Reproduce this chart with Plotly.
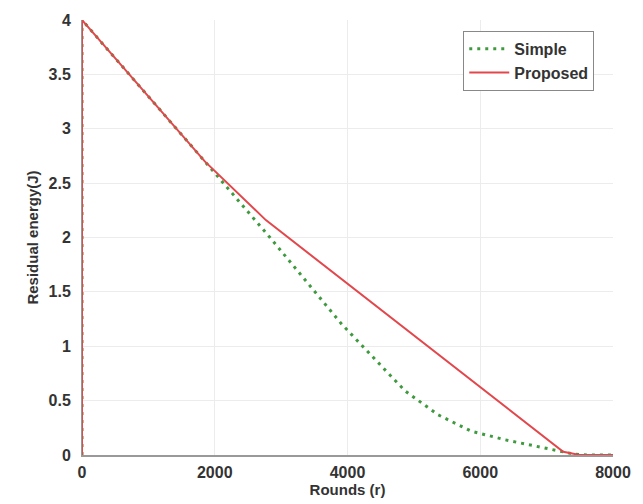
import plotly.graph_objects as go

rounds_simple = [0, 0, 1850, 2832, 3917, 4354, 4866, 5363, 5861, 6373, 6870, 7200, 7400, 7600, 8000]
energy_simple = [0, 4.0, 2.70, 2.00, 1.20, 0.92, 0.59, 0.37, 0.22, 0.14, 0.08, 0.04, 0.01, 0.0, 0.0]

rounds_proposed = [0, 0, 1850, 2770, 7250, 7500, 8000]
energy_proposed = [0, 4.0, 2.70, 2.16, 0.03, 0.0, 0.0]

x_ticks = [0, 2000, 4000, 6000, 8000]
y_ticks = [0, 0.5, 1, 1.5, 2, 2.5, 3, 3.5, 4]
y_labels = ["0", "0.5", "1", "1.5", "2", "2.5", "3", "3.5", "4"]

font_family = "Liberation Sans, Arial, sans-serif"

fig = go.Figure()
fig.add_trace(go.Scatter(x=rounds_simple, y=energy_simple, mode="lines", name="Simple",
                         line=dict(color="#3f9a3f", width=3, dash="3px,5px")))
fig.add_trace(go.Scatter(x=rounds_proposed, y=energy_proposed, mode="lines", name="Proposed",
                         line=dict(color="#e2474c", width=2)))

fig.update_layout(
    width=643, height=504,
    margin=dict(l=74, r=38, t=12, b=57, autoexpand=False),
    paper_bgcolor="white", plot_bgcolor="white",
    font=dict(family=font_family, size=16, color="#333333", weight="bold"),
    showlegend=True,
    legend=dict(x=0.718, y=0.975, xanchor="left", yanchor="top",
                bgcolor="white", bordercolor="#888888", borderwidth=1,
                font=dict(size=16, color="#333333", weight="bold"),
                tracegroupgap=0, itemwidth=40),
)
fig.update_xaxes(range=[0, 8000], tickvals=x_ticks, showgrid=True, gridcolor="#ececec",
                 zeroline=False, showline=True, linecolor="#999999", linewidth=1.5,
                 ticks="", ticklabelstandoff=2, automargin=False,
                 title=dict(text="Rounds (r)", standoff=4, font=dict(size=15, weight="bold")))
fig.update_yaxes(range=[0, 4], tickvals=y_ticks, ticktext=y_labels, showgrid=True, gridcolor="#ececec",
                 zeroline=False, showline=True, linecolor="#999999", linewidth=1,
                 ticks="", ticklabelstandoff=7, automargin=False,
                 title=dict(text="Residual energy(J)", standoff=6, font=dict(size=15, weight="bold")))

fig.write_html("out.html")
